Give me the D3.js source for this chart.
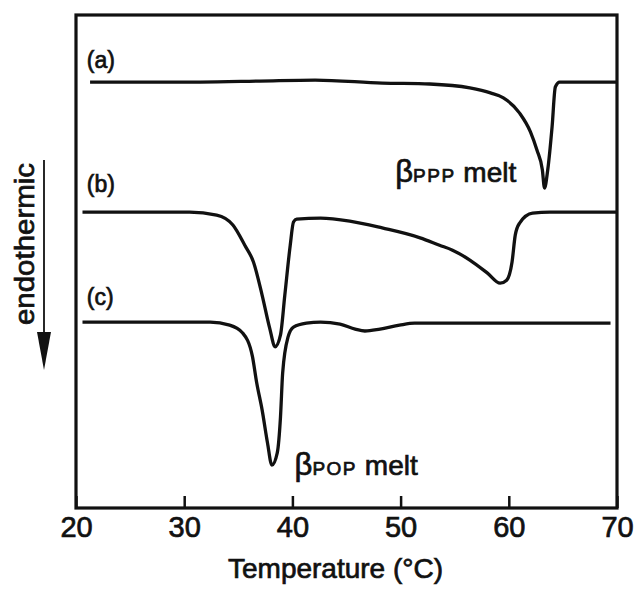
<!DOCTYPE html>
<html>
<head>
<meta charset="utf-8">
<script src="https://cdn.jsdelivr.net/npm/d3@7"></script>
<style>
  body { margin: 0; background: #fff; }
  text { font-family: "Liberation Sans", Arial, Helvetica, sans-serif; fill: #111; stroke: #111; stroke-width: 0.7px; }
</style>
</head>
<body>
<div class="chart"></div>
<script>
// DSC traces, temperature (°C) vs heat flow (arbitrary units, endothermic down)
const curveA = [
  [21.3, 86.4], [31.5, 86.4], [37.0, 86.6], [42.1, 86.8], [48.3, 86.2], [52.7, 86.0],
  [56.4, 85.2], [58.3, 84.2], [59.5, 83.2], [61.0, 80.1], [62.0, 76.3], [62.6, 72.6],
  [63.1, 68.6], [63.3, 64.9], [63.6, 68.6], [64.0, 77.3], [64.3, 85.4], [64.7, 86.4],
  [70.0, 86.4]
]
const curveB = [
  [20.6, 60.0], [30.5, 60.0], [33.0, 59.4], [34.5, 57.4], [35.6, 53.3], [36.4, 49.9],
  [37.2, 43.2], [37.9, 36.5], [38.4, 32.7], [38.9, 35.1], [39.3, 43.2], [39.8, 53.3],
  [40.1, 58.0], [40.4, 58.6], [42.6, 58.8], [45.3, 58.2], [48.3, 56.8], [51.8, 54.8],
  [53.6, 53.3], [54.8, 52.3], [56.4, 50.3], [58.0, 47.7], [59.2, 45.6], [59.8, 46.2],
  [60.3, 49.9], [60.6, 55.4], [61.0, 57.8], [62.2, 59.8], [63.8, 60.0], [70.0, 60.0]
]
const curveC = [
  [20.6, 37.7], [30.5, 37.7], [32.4, 37.7], [34.2, 37.1], [35.4, 35.5], [36.3, 30.8],
  [36.7, 25.4], [37.2, 19.9], [37.7, 13.2], [38.1, 8.7], [38.6, 11.2], [38.9, 18.5],
  [39.1, 27.4], [39.6, 34.7], [40.1, 36.7], [41.3, 37.5], [42.6, 37.7], [44.4, 37.3],
  [45.8, 36.3], [46.7, 35.9], [48.1, 36.3], [49.9, 37.1], [51.3, 37.5], [69.4, 37.5]
]
const curves = [curveA, curveB, curveC]

const xTicks = [20, 30, 40, 50, 60, 70]
const curveLabels = [
  { text: '(a)', t: 21.0, u: 89.2 },
  { text: '(b)', t: 21.0, u: 64.1 },
  { text: '(c)', t: 21.0, u: 41.2 }
]
const peakLabels = [
  { sub: 'PPP', t: 49.5, u: 66.1 },
  { sub: 'POP', t: 40.2, u: 6.7 }
]

const width = 635, height = 589
const m = { left: 76, right: 617, top: 15, bottom: 508 }

const svg = d3.select('.chart')
  .append('svg')
  .attr('width', width)
  .attr('height', height)

const x = d3.scaleLinear().domain([20, 70]).range([m.left, m.right])
const y = d3.scaleLinear().domain([0, 100]).range([m.bottom, m.top])

// frame
svg.append('rect')
  .attr('x', m.left)
  .attr('y', m.top)
  .attr('width', m.right - m.left)
  .attr('height', m.bottom - m.top)
  .attr('fill', 'none')
  .attr('stroke', '#111')
  .attr('stroke-width', 3.2)

// bottom axis with inward ticks
const axis = svg.append('g')
  .attr('transform', `translate(0,${m.bottom})`)
  .call(d3.axisBottom(x).tickValues(xTicks).tickSizeInner(-12).tickSizeOuter(0).tickFormat(d3.format('d')))
axis.select('.domain').remove()
axis.selectAll('.tick line').attr('stroke', '#111').attr('stroke-width', 2.5)
axis.selectAll('.tick text')
  .attr('y', 29)
  .attr('dy', null)
  .attr('font-size', 29)
  .attr('fill', '#111')
  .style('font-family', '"Liberation Sans", Arial, sans-serif')

svg.append('text')
  .attr('x', (m.left + m.right) / 2 - 11)
  .attr('y', 578)
  .attr('text-anchor', 'middle')
  .attr('font-size', 28)
  .text('Temperature (°C)')

// y label with arrow
svg.append('text')
  .attr('transform', 'translate(34,244) rotate(-90)')
  .attr('text-anchor', 'middle')
  .attr('font-size', 27)
  .attr('textLength', 162)
  .attr('lengthAdjust', 'spacingAndGlyphs')
  .text('endothermic')

svg.append('line')
  .attr('x1', 44).attr('x2', 44)
  .attr('y1', 160).attr('y2', 340)
  .attr('stroke', '#111')
  .attr('stroke-width', 1.8)
svg.append('path')
  .attr('d', 'M37 332 L51 332 L44 370 Z')
  .attr('fill', '#111')

// traces
const line = d3.line()
  .x(d => x(d[0]))
  .y(d => y(d[1]))
  .curve(d3.curveMonotoneX)

svg.selectAll('.trace')
  .data(curves)
  .join('path')
  .attr('class', 'trace')
  .attr('d', line)
  .attr('fill', 'none')
  .attr('stroke', '#111')
  .attr('stroke-width', 3.3)
  .attr('stroke-linejoin', 'round')

svg.selectAll('.clabel')
  .data(curveLabels)
  .join('text')
  .attr('class', 'clabel')
  .attr('x', d => x(d.t))
  .attr('y', d => y(d.u))
  .attr('font-size', 23)
  .text(d => d.text)

peakLabels.forEach(p => {
  const t = svg.append('text')
    .attr('x', x(p.t))
    .attr('y', y(p.u))
  t.append('tspan').attr('font-size', 31).text('β')
  t.append('tspan').attr('font-size', 19).attr('letter-spacing', 1.5).text(p.sub)
  t.append('tspan').attr('font-size', 28).text(' melt')
})
</script>
</body>
</html>
